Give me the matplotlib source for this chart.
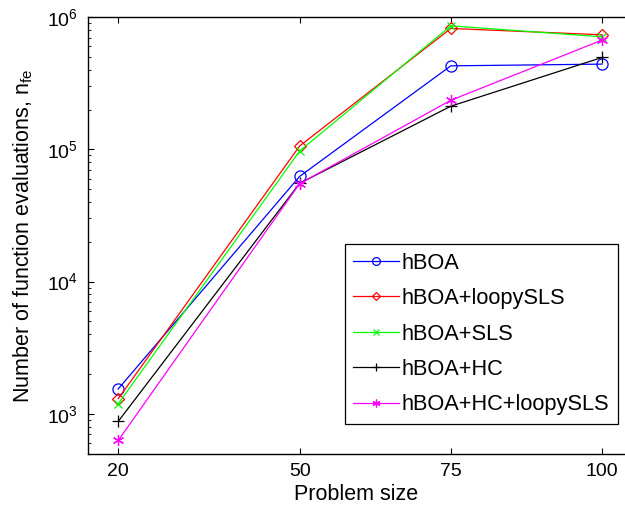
import numpy as np
import matplotlib
matplotlib.use("Agg")
import matplotlib.pyplot as plt
from matplotlib.ticker import LogLocator, NullFormatter

plt.rcParams['font.family'] = ['Liberation Sans', 'DejaVu Sans']
plt.rcParams['mathtext.fontset'] = 'custom'
plt.rcParams['mathtext.rm'] = 'Liberation Sans'
plt.rcParams['mathtext.default'] = 'regular'

# data
problem_size = [20, 50, 75, 100]
hboa = [1540, 62400, 428000, 441000]
hboa_loopysls = [1300, 106000, 821000, 735000]
hboa_sls = [1190, 97100, 860000, 709000]
hboa_hc = [875, 55300, 212000, 495000]
hboa_hc_loopysls = [628, 55000, 235000, 670000]

asterisk = (6, 2, 0)
series = [
    ('hBOA', hboa, 'o', 8, (0, 0, 1)),
    ('hBOA+loopySLS', hboa_loopysls, 'D', 6, (1, 0, 0)),
    ('hBOA+SLS', hboa_sls, 'x', 6, (0, 1, 0)),
    ('hBOA+HC', hboa_hc, '+', 9, (0, 0, 0)),
    ('hBOA+HC+loopySLS', hboa_hc_loopysls, asterisk, 8, (1, 0, 1)),
]

fig = plt.figure(figsize=(6.25, 5.11), dpi=100)
ax = fig.add_axes([0.1408, 0.1125, 0.8592, 0.854])

for name, vals, mk, ms, col in series:
    ax.plot(problem_size, vals, color=col, marker=mk, markersize=ms,
            markerfacecolor='none', markeredgecolor=col, markeredgewidth=0.9,
            linewidth=0.9, label=name)

ax.set_yscale('log')
ax.set_xlim(15, 103.8)
ax.set_ylim(500, 1e6)
ax.set_xticks(problem_size)
ax.yaxis.set_major_locator(LogLocator(base=10, numticks=10))
ax.yaxis.set_minor_locator(LogLocator(base=10, subs=np.arange(2, 10), numticks=10))
ax.yaxis.set_minor_formatter(NullFormatter())

ax.spines['right'].set_visible(False)
for s in ['left', 'bottom', 'top']:
    ax.spines[s].set_linewidth(1.0)
ax.tick_params(axis='both', which='both', direction='in', top=True, right=False,
               labelsize=14, pad=7)
ax.tick_params(axis='both', which='major', length=4.5)
ax.tick_params(axis='both', which='minor', length=2.5)

ax.set_xlabel('Problem size', fontsize=15.5, labelpad=3)
ax.set_ylabel('Number of function evaluations, n$_{fe}$', fontsize=15.5, labelpad=9)

leg = ax.legend(loc='lower right', bbox_to_anchor=(0.987, 0.0676), fontsize=15.7,
                frameon=True, fancybox=False, edgecolor='black', framealpha=1,
                handlelength=2.1, borderpad=0.4, labelspacing=0.66, handletextpad=0.12,
                borderaxespad=0, markerscale=0.7)
leg.get_frame().set_linewidth(0.9)

fig.savefig('out.png', dpi=100)
